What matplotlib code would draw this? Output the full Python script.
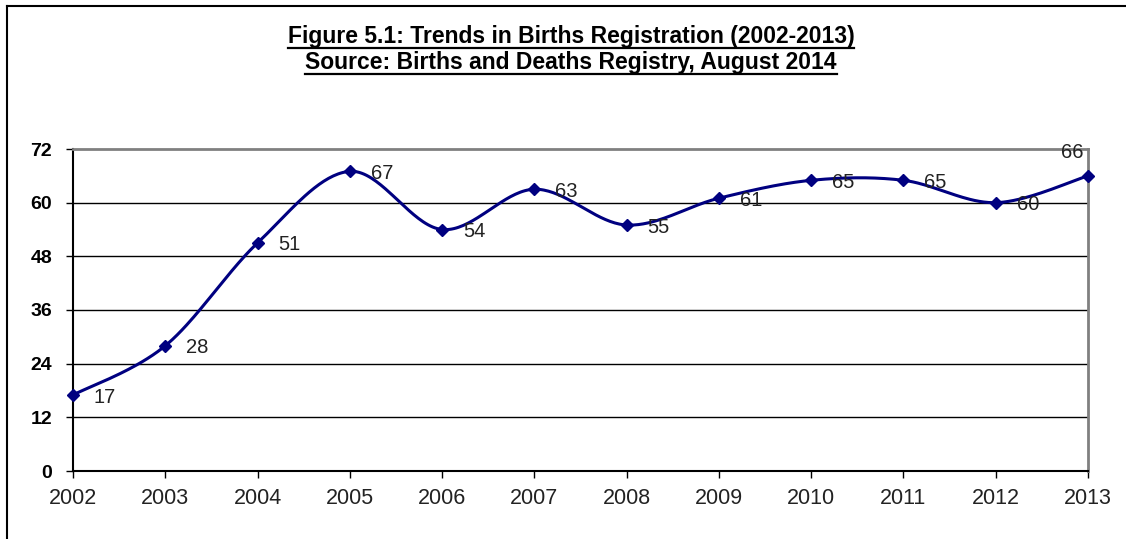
import numpy as np
import matplotlib
matplotlib.use("Agg")
import matplotlib.pyplot as plt
from matplotlib.lines import Line2D

plt.rcParams['font.family'] = ['Liberation Sans', 'DejaVu Sans']

years = [2002, 2003, 2004, 2005, 2006, 2007, 2008, 2009, 2010, 2011, 2012, 2013]
births = [17, 28, 51, 67, 54, 63, 55, 61, 65, 65, 60, 66]
y_ticks = [0, 12, 24, 36, 48, 60, 72]
title_lines = ["Figure 5.1: Trends in Births Registration (2002-2013)",
               "Source: Births and Deaths Registry, August 2014"]

W, H = 1126, 539
fig = plt.figure(figsize=(W / 100, H / 100), dpi=100)
ax = fig.add_axes([73 / W, 1 - 471 / H, (1088 - 73) / W, (471 - 149) / H])

# Smoothed line (Catmull-Rom style Bezier segments between points)
x = np.arange(len(years), dtype=float)
y = np.array(births, dtype=float)
px = np.concatenate([[x[0]], x, [x[-1]]])
py = np.concatenate([[y[0]], y, [y[-1]]])
t = np.linspace(0, 1, 40)
sx, sy = [], []
for i in range(len(x) - 1):
    p0 = np.array([x[i], y[i]])
    p3 = np.array([x[i + 1], y[i + 1]])
    p1 = p0 + (np.array([px[i + 2], py[i + 2]]) - np.array([px[i], py[i]])) / 6
    p2 = p3 - (np.array([px[i + 3], py[i + 3]]) - np.array([px[i + 1], py[i + 1]])) / 6
    b = ((1 - t) ** 3)[:, None] * p0 + (3 * (1 - t) ** 2 * t)[:, None] * p1 \
        + (3 * (1 - t) * t ** 2)[:, None] * p2 + (t ** 3)[:, None] * p3
    sx.extend(b[:, 0]); sy.extend(b[:, 1])

navy = '#000080'
ax.plot(sx, sy, color=navy, lw=2.2, zorder=3, clip_on=False)
ax.plot(x, y, linestyle='none', marker='D', ms=6, color=navy, zorder=4, clip_on=False)

for i, v in enumerate(births):
    if i == len(births) - 1:
        ax.annotate(str(v), (x[i], v), xytext=(-3.5, 17), textcoords='offset points',
                    ha='right', va='center', fontsize=14.5, color='#222222')
    else:
        ax.annotate(str(v), (x[i], v), xytext=(15, -1.5), textcoords='offset points',
                    ha='left', va='center', fontsize=14.5, color='#222222')

ax.set_xlim(0, len(years) - 1)
ax.set_ylim(0, 72)
ax.set_xticks(x)
ax.set_xticklabels([str(v) for v in years], fontsize=15.5, color='#222222')
ax.set_yticks(y_ticks)
ax.set_yticklabels([str(v) for v in y_ticks], fontsize=14, fontweight='bold')
ax.tick_params(axis='y', length=5, width=1, pad=10, color='black')
ax.tick_params(axis='x', length=5, width=1, pad=7, color='black')
for v in y_ticks[1:-1]:
    ax.axhline(v, color='black', lw=1, zorder=1)
for s in ['top', 'right']:
    ax.spines[s].set_color('#808080')
    ax.spines[s].set_linewidth(2)
for s in ['left', 'bottom']:
    ax.spines[s].set_color('black')
    ax.spines[s].set_linewidth(1.5)

# Figure border (left and top edges)
fig.add_artist(Line2D([7 / W, 7 / W], [0, 1 - 6 / H], color='black', lw=1.5))
fig.add_artist(Line2D([7 / W, 1], [1 - 6 / H, 1 - 6 / H], color='black', lw=1.5))

# Title with underlines
baselines = [42.5, 68.5]
texts = []
for line, yb in zip(title_lines, baselines):
    texts.append(fig.text(571 / W, 1 - yb / H, line, ha='center', va='baseline',
                          fontsize=16.5, fontweight='bold'))
fig.canvas.draw()
r = fig.canvas.get_renderer()
for tx, yb in zip(texts, baselines):
    bb = tx.get_window_extent(r)
    yu = 1 - (yb + 5) / H
    fig.add_artist(Line2D([bb.x0 / W, bb.x1 / W], [yu, yu], color='black', lw=1.6))

fig.savefig('out.png', dpi=100)
